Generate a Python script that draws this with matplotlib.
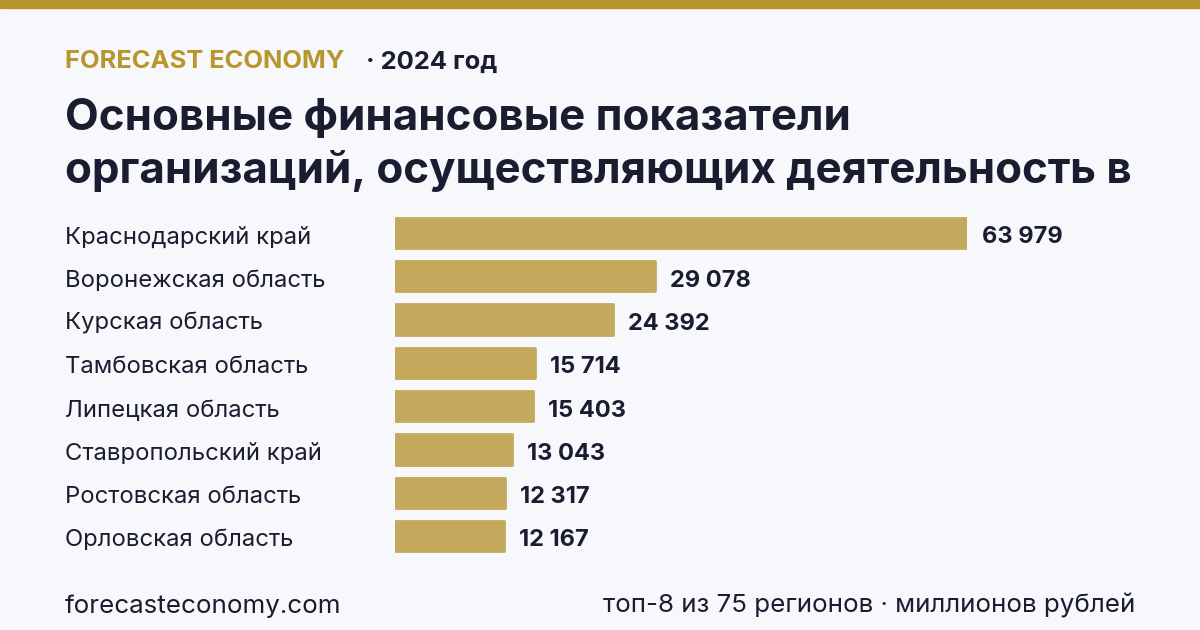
import matplotlib.pyplot as plt
import matplotlib.transforms as mtransforms

# data
regions = ["Краснодарский край", "Воронежская область", "Курская область",
           "Тамбовская область", "Липецкая область", "Ставропольский край",
           "Ростовская область", "Орловская область"]
values = [63979, 29078, 24392, 15714, 15403, 13043, 12317, 12167]
value_labels = ["63 979", "29 078", "24 392", "15 714", "15 403", "13 043",
                "12 317", "12 167"]

BG = "#f7f8fc"
GOLD = "#b8962e"
BAR = "#c4a85b"
INK = "#1c1c30"

plt.rcParams['font.family'] = ['Inter', 'DejaVu Sans']

W, H = 1200, 630
fig = plt.figure(figsize=(12, 6.3), dpi=100, facecolor=BG)

# top band
fig.patches.append(plt.Rectangle((0, 1 - 8 / H), 1, 8 / H, transform=fig.transFigure,
                                 color=GOLD, zorder=0))

# header
fig.text(65 / W, 1 - 62 / H, "FORECAST ECONOMY", color=GOLD, fontsize=18.4,
         fontweight='bold', va='center', ha='left')
fig.text(366 / W, 1 - 62 / H, "· 2024 год", color=INK, fontsize=18.4,
         fontweight='bold', va='center', ha='left')
fig.text(65 / W, 1 - 118 / H, "Основные финансовые показатели", color=INK,
         fontsize=31.6, fontweight='bold', va='center', ha='left')
fig.text(65 / W, 1 - 171 / H, "организаций, осуществляющих деятельность в",
         color=INK, fontsize=31.6, fontweight='bold', va='center', ha='left')

# bars
row = 43.3
top = 233 - row / 2
bottom = top + 8 * row
ax = fig.add_axes([395 / W, 1 - bottom / H, 572 / W, (bottom - top) / H])
ax.set_facecolor(BG)
ax.barh(range(len(values)), values, height=0.70, color=BAR,
        edgecolor=BAR, linewidth=2, joinstyle='round')
ax.set_xlim(0, max(values))
ax.set_ylim(len(values) - 0.5, -0.5)
ax.axis('off')

offset = mtransforms.offset_copy(ax.transData, fig=fig, x=15, y=0, units='dots')
for i, (v, lab) in enumerate(zip(values, value_labels)):
    ax.text(v, i + 0.1, lab, transform=offset, color=INK, fontsize=17,
            fontweight='bold', va='center', ha='left', clip_on=False)

lab_tr = mtransforms.blended_transform_factory(fig.transFigure, ax.transData)
for i, r in enumerate(regions):
    ax.text(65 / W, i + 0.1, r, transform=lab_tr, color=INK, fontsize=17.2,
            va='center', ha='left', clip_on=False)

# footer
fig.text(65 / W, 1 - 606 / H, "forecasteconomy.com", color=INK, fontsize=18.7,
         va='center', ha='left')
fig.text(1135 / W, 1 - 606 / H, "топ-8 из 75 регионов · миллионов рублей",
         color=INK, fontsize=18.7, va='center', ha='right')

fig.savefig("out.png", dpi=100, facecolor=BG)
